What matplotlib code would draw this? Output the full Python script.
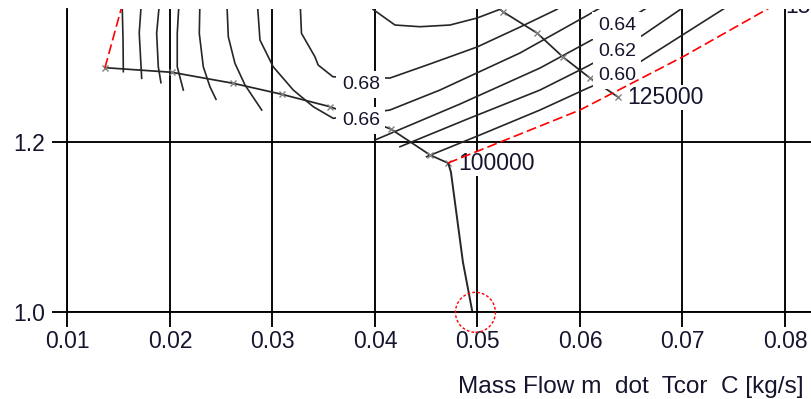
import matplotlib.pyplot as plt
from matplotlib.patches import Ellipse

plt.rcParams['font.family'] = ['Liberation Sans', 'DejaVu Sans']

# speed lines (mass flow [kg/s], pressure ratio)
speed_100k_x = [0.01366, 0.02017, 0.02618, 0.03090, 0.03561, 0.04156, 0.04537, 0.04712]
speed_100k_y = [1.2878, 1.2824, 1.2694, 1.2565, 1.2419, 1.2156, 1.1851, 1.1756]
speed_125k_x = [0.05171, 0.05249, 0.05581, 0.05834, 0.06098, 0.06371]
speed_125k_y = [1.3615, 1.3536, 1.3286, 1.3004, 1.2756, 1.2533]

# surge and choke lines
surge_x = [0.01366, 0.01561]
surge_y = [1.2878, 1.3733]
choke_x = [0.04712, 0.06000, 0.07005, 0.07824, 0.07950]
choke_y = [1.1756, 1.2380, 1.3007, 1.3565, 1.3650]

# operating line and point
op_line_x = [0.04715, 0.04741, 0.04858, 0.04956]
op_line_y = [1.1753, 1.1651, 1.0592, 0.9968]
op_point = (0.0498, 1.0)

# efficiency contours, left arms (unlabelled)
eff_054_x = [0.01532, 0.01542, 0.01545]
eff_054_y = [1.3700, 1.3204, 1.2831]
eff_056_x = [0.01724, 0.01700, 0.01724]
eff_056_y = [1.3700, 1.3286, 1.2753]
eff_058_x = [0.01902, 0.01870, 0.01886, 0.01912]
eff_058_y = [1.3700, 1.3282, 1.2889, 1.2701]
eff_060_l_x = [0.02091, 0.02071, 0.02071, 0.02130]
eff_060_l_y = [1.3700, 1.3282, 1.2889, 1.2615]
eff_062_l_x = [0.02293, 0.02286, 0.02325, 0.02390, 0.02449]
eff_062_l_y = [1.3700, 1.3282, 1.2889, 1.2654, 1.2506]
eff_064_l_x = [0.02553, 0.02569, 0.02634, 0.02732, 0.02895]
eff_064_l_y = [1.3700, 1.3242, 1.2929, 1.2674, 1.2380]

# efficiency contours, right arms
eff_060_r_x = [0.04504, 0.05024, 0.05610, 0.06078, 0.06361, 0.06615, 0.07395, 0.07512]
eff_060_r_y = [1.1831, 1.2086, 1.2380, 1.2639, 1.2780, 1.2968, 1.3565, 1.3651]
eff_062_r_x = [0.04244, 0.04927, 0.05610, 0.06078, 0.06361, 0.06615, 0.06985, 0.07073]
eff_062_r_y = [1.1948, 1.2286, 1.2615, 1.2898, 1.3086, 1.3262, 1.3568, 1.3639]
eff_064_r_x = [0.04000, 0.04829, 0.05610, 0.06078, 0.06361, 0.06683]
eff_064_r_y = [1.2027, 1.2450, 1.2874, 1.3180, 1.3368, 1.3604]

# contours passing the 0.66 / 0.68 labels
eff_066_x = [0.02849, 0.02878, 0.03007, 0.03203, 0.03398, 0.03593, 0.04146, 0.04634, 0.05415, 0.06078, 0.06195]
eff_066_y = [1.3700, 1.3203, 1.2889, 1.2615, 1.2419, 1.2282, 1.2380, 1.2615, 1.3051, 1.3498, 1.3580]
eff_068_x = [0.03268, 0.03283, 0.03414, 0.03446, 0.03590, 0.04146, 0.04507, 0.04995, 0.05415, 0.05776, 0.05830]
eff_068_y = [1.3700, 1.3282, 1.3007, 1.2909, 1.2771, 1.2756, 1.2909, 1.3121, 1.3356, 1.3565, 1.3630]
eff_070_x = [0.03950, 0.03980, 0.04195, 0.04439, 0.04732, 0.04995, 0.05220, 0.05260]
eff_070_y = [1.3650, 1.3565, 1.3380, 1.3360, 1.3380, 1.3462, 1.3565, 1.3650]

eff_labels = ['0.68', '0.66', '0.64', '0.62', '0.60']
eff_label_x = [0.03863, 0.03863, 0.06361, 0.06361, 0.06361]
eff_label_y = [1.2680, 1.2256, 1.3374, 1.3074, 1.2786]

speed_labels = ['100000', '125000', '150000']
speed_label_x = [0.04809, 0.06459, 0.08000]
speed_label_y = [1.1751, 1.2527, 1.3518]

x_ticks = [0.01, 0.02, 0.03, 0.04, 0.05, 0.06, 0.07, 0.08]
y_ticks = [1.0, 1.2]

txt = '#15152e'
line_c = '#262626'

fig = plt.figure(figsize=(8.11, 3.99), dpi=100)
ax = fig.add_axes([0.0832, 0.2173, 0.9168, 0.7594])

for xs, ys in [(eff_054_x, eff_054_y), (eff_056_x, eff_056_y), (eff_058_x, eff_058_y),
               (eff_060_l_x, eff_060_l_y), (eff_062_l_x, eff_062_l_y), (eff_064_l_x, eff_064_l_y),
               (eff_060_r_x, eff_060_r_y), (eff_062_r_x, eff_062_r_y), (eff_064_r_x, eff_064_r_y),
               (eff_066_x, eff_066_y), (eff_068_x, eff_068_y), (eff_070_x, eff_070_y)]:
    ax.plot(xs, ys, color=line_c, lw=1.2, zorder=2)

ax.plot(speed_100k_x, speed_100k_y, color=line_c, lw=1.25, marker='x', ms=5,
        mec='#808080', mew=1, zorder=2)
ax.plot(speed_125k_x, speed_125k_y, color=line_c, lw=1.25, marker='x', ms=5,
        mec='#808080', mew=1, zorder=2)
ax.plot(op_line_x, op_line_y, color=line_c, lw=1.4, zorder=2)

ax.plot(surge_x, surge_y, color='red', lw=1.2, dashes=(6, 2.5), zorder=4)
ax.plot(choke_x, choke_y, color='red', lw=1.2, dashes=(6, 2.5), zorder=4)

ax.add_patch(Ellipse(op_point, width=0.0039, height=0.047, fill=False,
                     ec='red', lw=1.0, ls=(0, (2, 1.5)), clip_on=False, zorder=5))

for lab, x, y in zip(eff_labels, eff_label_x, eff_label_y):
    ax.text(x, y, lab, fontsize=14, color=txt, ha='center', va='center', zorder=3,
            bbox=dict(boxstyle='square,pad=0.28', fc='white', ec='none'))

for lab, x, y in zip(speed_labels[:2], speed_label_x[:2], speed_label_y[:2]):
    ax.text(x, y, lab, fontsize=16.5, color=txt, ha='left', va='center', zorder=3,
            bbox=dict(boxstyle='square,pad=0.05', fc='white', ec='none'))
# label of the next speed line, cut by the top of the plot area
ax.text(speed_label_x[2], speed_label_y[2], speed_labels[2], fontsize=16.5, color=txt,
        ha='left', va='baseline', clip_on=True, zorder=3)

ax.set_xlim(0.01, 0.08254)
ax.set_ylim(1.0, 1.3565)
ax.set_xticks(x_ticks)
ax.set_xticklabels(['%.2f' % v for v in x_ticks])
ax.set_yticks(y_ticks)
ax.set_yticklabels(['%.1f' % v for v in y_ticks])
ax.grid(True, color='black', lw=1.35)
ax.set_axisbelow(True)
for s in ['top', 'right']:
    ax.spines[s].set_visible(False)
for s in ['left', 'bottom']:
    ax.spines[s].set_linewidth(1.35)
ax.tick_params(axis='both', length=10.5, width=1.35, color='black', labelsize=16.5,
               labelcolor=txt)
ax.tick_params(axis='x', pad=2.5)
ax.tick_params(axis='y', pad=5.5)

fig.text(804 / 811, 6 / 399, 'Mass Flow m  dot  Tcor  C [kg/s]', fontsize=17.6,
         color=txt, ha='right', va='baseline')

fig.savefig('out.png', dpi=100)
